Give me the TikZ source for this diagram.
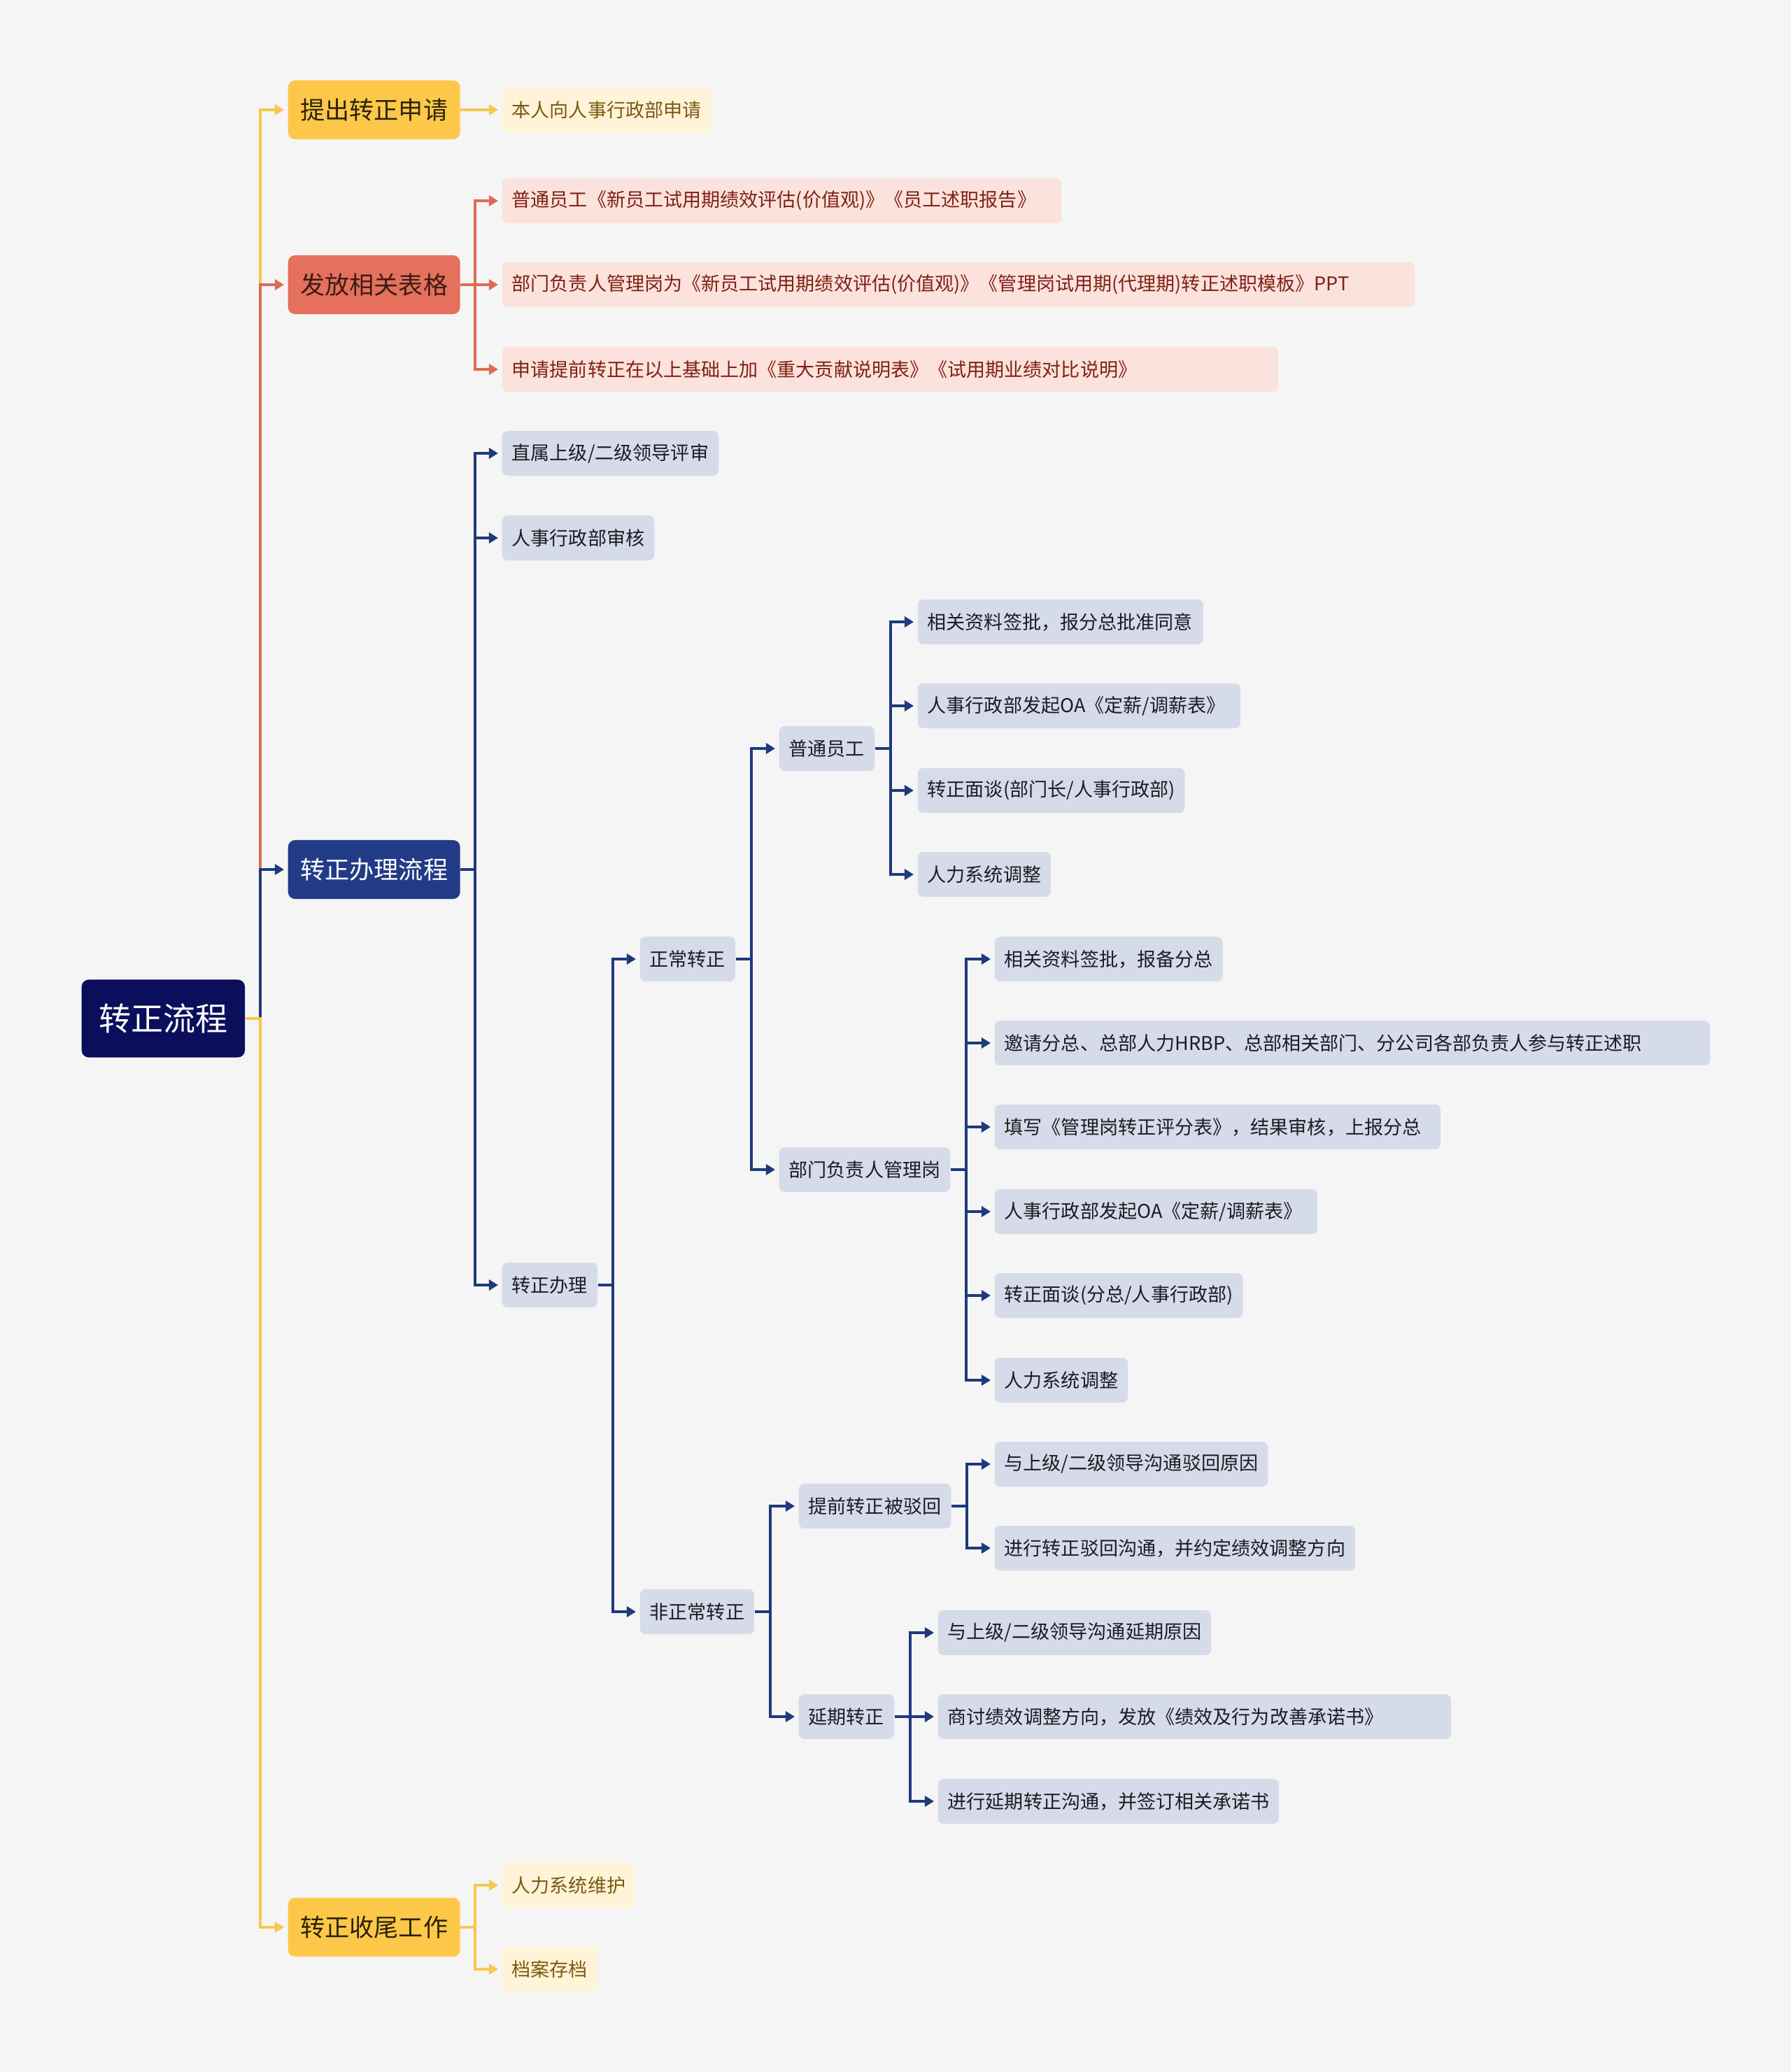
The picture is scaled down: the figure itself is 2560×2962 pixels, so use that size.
\documentclass[tikz,border=0pt]{standalone}
\usepackage{fontspec}
\setmainfont{Noto Sans CJK SC}
\usetikzlibrary{arrows.meta}

\definecolor{bgc}{HTML}{F5F5F5}
\definecolor{rootc}{HTML}{0B0E5A}
\definecolor{yl0}{HTML}{F6C84C}
\definecolor{yl1}{HTML}{FDC84A}
\definecolor{yl2}{HTML}{FFF3D8}
\definecolor{ylhd}{HTML}{2B2306}
\definecolor{yltx}{HTML}{7A5A10}
\definecolor{or0}{HTML}{DE6C55}
\definecolor{or1}{HTML}{E5705B}
\definecolor{or2}{HTML}{FBE2DC}
\definecolor{orhd}{HTML}{3D1C14}
\definecolor{ortx}{HTML}{7F2114}
\definecolor{nv0}{HTML}{1E3A7B}
\definecolor{nv1}{HTML}{213B86}
\definecolor{nv2}{HTML}{D6DBEA}
\definecolor{nvtx}{HTML}{1C1C22}

\begin{document}
\begin{tikzpicture}[x=0.01cm, y=-0.01cm,
    box/.style={anchor=west, rounded corners=0.1cm, inner ysep=0pt, align=left},
    rootbox/.style={box, fill=rootc, text=white, font=\fontsize{13.1}{15}\selectfont, minimum height=1.11cm, inner xsep=0.245cm},
    mainbox/.style={box, font=\fontsize{10}{12}\selectfont, minimum height=0.84cm, inner xsep=0.175cm},
    leaf/.style={box, rounded corners=0.08cm, font=\fontsize{7.7}{9}\selectfont, minimum height=0.64cm, inner xsep=0.14cm},
    yleaf/.style={leaf, fill=yl2, text=yltx},
    oleaf/.style={leaf, fill=or2, text=ortx},
    nleaf/.style={leaf, fill=nv2, text=nvtx},
    link/.style={line width=0.04cm, draw=#1, -{Triangle[length=0.13cm, width=0.15cm]}, shorten >=0.05cm}]

    % Background
    \fill[bgc] (0,0) rectangle (2560,2962);
    \useasboundingbox (0,0) rectangle (2560,2962);

    % Root
    \node[rootbox] (root) at (116,1456) {转正流程};

    % Level 1
    \node[mainbox, fill=yl1, text=ylhd] (apply) at (411,157) {提出转正申请};
    \node[mainbox, fill=or1, text=orhd] (forms) at (411,407) {发放相关表格};
    \node[mainbox, fill=nv1, text=white] (proc) at (411,1243) {转正办理流程};
    \node[mainbox, fill=yl1, text=ylhd] (close) at (411,2755) {转正收尾工作};

    % Level 2
    \node[yleaf] (apply1) at (717,157) {本人向人事行政部申请};
    \node[oleaf, text width=7.71cm] (forms1) at (717,287) {普通员工《新员工试用期绩效评估(价值观)》《员工述职报告》};
    \node[oleaf, text width=12.76cm] (forms2) at (717,407) {部门负责人管理岗为《新员工试用期绩效评估(价值观)》《管理岗试用期(代理期)转正述职模板》PPT};
    \node[oleaf, text width=10.81cm] (forms3) at (717,528) {申请提前转正在以上基础上加《重大贡献说明表》《试用期业绩对比说明》};
    \node[nleaf] (proc1) at (717,648) {直属上级/二级领导评审};
    \node[nleaf] (proc2) at (717,769) {人事行政部审核};
    \node[nleaf] (proc3) at (717,1837) {转正办理};
    \node[yleaf] (close1) at (717,2695) {人力系统维护};
    \node[yleaf] (close2) at (717,2815) {档案存档};

    % Level 3 and 4
    \node[nleaf] (norm) at (914,1371) {正常转正};
    \node[nleaf] (abnorm) at (914,2304) {非正常转正};
    \node[nleaf] (staff) at (1113,1070) {普通员工};
    \node[nleaf] (mgr) at (1113,1672) {部门负责人管理岗};
    \node[nleaf] (early) at (1141,2153) {提前转正被驳回};
    \node[nleaf] (delay) at (1141,2454) {延期转正};

    % Level 5
    \node[nleaf, text width=3.80cm] (staff1) at (1311,889) {相关资料签批，报分总批准同意};
    \node[nleaf, text width=4.33cm] (staff2) at (1311,1009) {人事行政部发起OA《定薪/调薪表》};
    \node[nleaf] (staff3) at (1311,1130) {转正面谈(部门长/人事行政部)};
    \node[nleaf] (staff4) at (1311,1250) {人力系统调整};
    \node[nleaf] (mgr1) at (1421,1371) {相关资料签批，报备分总};
    \node[nleaf, text width=9.94cm] (mgr2) at (1421,1491) {邀请分总、总部人力HRBP、总部相关部门、分公司各部负责人参与转正述职};
    \node[nleaf, text width=6.09cm] (mgr3) at (1421,1611) {填写《管理岗转正评分表》，结果审核，上报分总};
    \node[nleaf, text width=4.33cm] (mgr4) at (1421,1732) {人事行政部发起OA《定薪/调薪表》};
    \node[nleaf] (mgr5) at (1421,1852) {转正面谈(分总/人事行政部)};
    \node[nleaf] (mgr6) at (1421,1973) {人力系统调整};
    \node[nleaf] (early1) at (1421,2093) {与上级/二级领导沟通驳回原因};
    \node[nleaf] (early2) at (1421,2213) {进行转正驳回沟通，并约定绩效调整方向};
    \node[nleaf] (delay1) at (1340,2334) {与上级/二级领导沟通延期原因};
    \node[nleaf, text width=7.05cm] (delay2) at (1340,2454) {商讨绩效调整方向，发放《绩效及行为改善承诺书》};
    \node[nleaf, text width=4.59cm] (delay3) at (1340,2575) {进行延期转正沟通，并签订相关承诺书};

    % Connectors from the root
    \draw[link=yl0] (root.east) -- ++(21,0) |- (apply.west);
    \draw[link=or0] (root.east) -- ++(21,0) |- (forms.west);
    \draw[link=nv0] (root.east) -- ++(21,0) |- (proc.west);
    \draw[link=yl0] (root.east) -- ++(21,0) |- (close.west);

    % Connectors of the branches
    \draw[link=yl0] (apply.east) -- ++(21,0) |- (apply1.west);
    \foreach \c in {forms1,forms2,forms3}
        \draw[link=or0] (forms.east) -- ++(21,0) |- (\c.west);
    \foreach \c in {proc1,proc2,proc3}
        \draw[link=nv0] (proc.east) -- ++(21,0) |- (\c.west);
    \foreach \c in {close1,close2}
        \draw[link=yl0] (close.east) -- ++(21,0) |- (\c.west);
    \foreach \c in {norm,abnorm}
        \draw[link=nv0] (proc3.east) -- ++(21,0) |- (\c.west);
    \foreach \c in {staff,mgr}
        \draw[link=nv0] (norm.east) -- ++(22,0) |- (\c.west);
    \foreach \c in {early,delay}
        \draw[link=nv0] (abnorm.east) -- ++(22,0) |- (\c.west);
    \foreach \c in {staff1,staff2,staff3,staff4}
        \draw[link=nv0] (staff.east) -- ++(22,0) |- (\c.west);
    \foreach \c in {mgr1,mgr2,mgr3,mgr4,mgr5,mgr6}
        \draw[link=nv0] (mgr.east) -- ++(22,0) |- (\c.west);
    \foreach \c in {early1,early2}
        \draw[link=nv0] (early.east) -- ++(22,0) |- (\c.west);
    \foreach \c in {delay1,delay2,delay3}
        \draw[link=nv0] (delay.east) -- ++(22,0) |- (\c.west);
\end{tikzpicture}
\end{document}
